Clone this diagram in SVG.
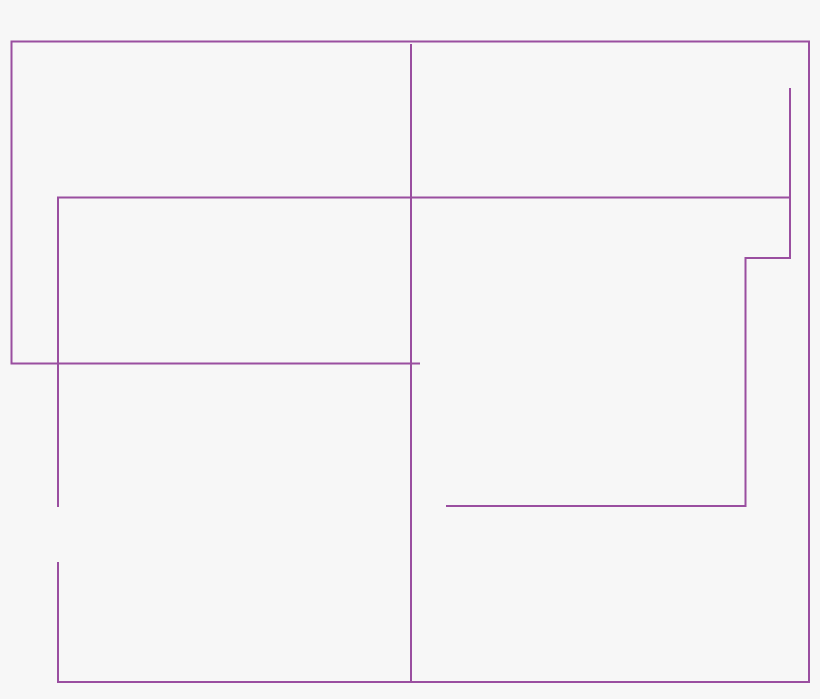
<svg xmlns="http://www.w3.org/2000/svg" width="820" height="699" viewBox="0 0 820 699">
<style>
.c{fill:none;stroke:#9a4fa0;stroke-width:2;stroke-linecap:butt;stroke-linejoin:miter}
</style>
<rect width="820" height="699" fill="#f7f7f7"/>
<g id="connectors">
<path class="c" d="M58,562 V682 H809 V41.5 H11.5 V363.5 H420"/>
<path class="c" d="M411,44 V682"/>
<path class="c" d="M58,507 V197.5 H790"/>
<path class="c" d="M790,88 V258 H745.5 V506 H446"/>
</g>
</svg>
